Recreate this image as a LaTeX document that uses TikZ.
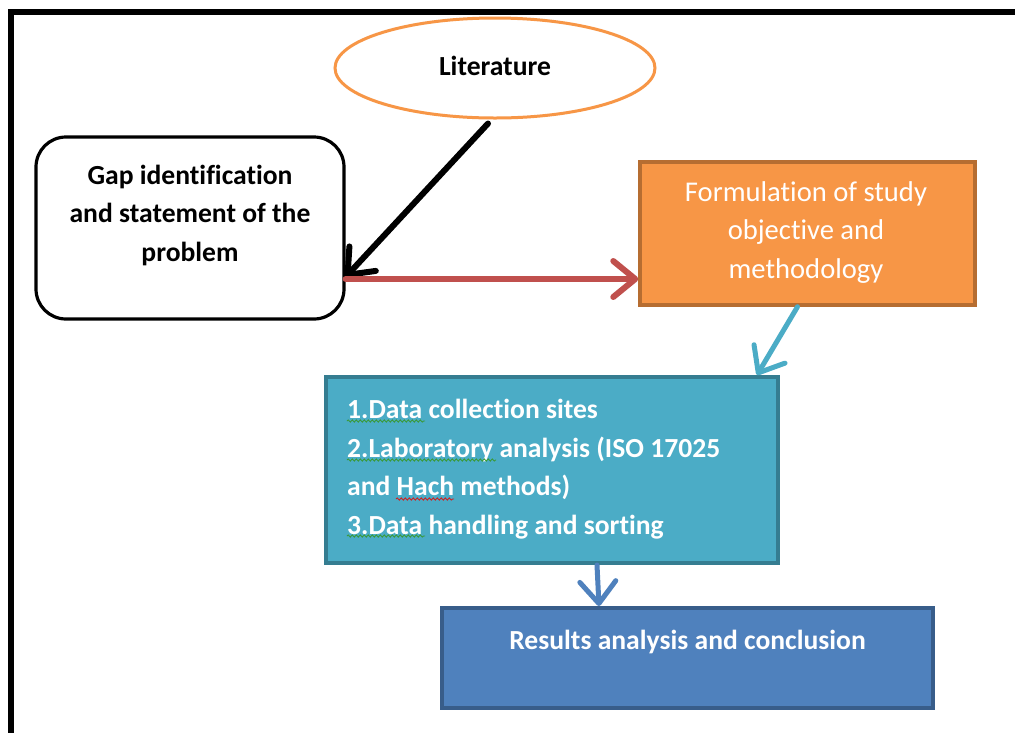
\documentclass[tikz,border=0pt]{standalone}
\usepackage{fontspec}
\setmainfont[Ligatures=NoCommon]{Carlito}
\usetikzlibrary{arrows.meta,shapes.geometric,decorations.pathmorphing}
\definecolor{orangeF}{HTML}{F79646}
\definecolor{orangeD}{HTML}{B66D31}
\definecolor{tealF}{HTML}{4BACC6}
\definecolor{tealD}{HTML}{357D91}
\definecolor{blueF}{HTML}{4F81BD}
\definecolor{blueD}{HTML}{385D8A}
\definecolor{redA}{HTML}{C0504D}
\definecolor{sqgreen}{HTML}{3A9A3A}
\definecolor{sqred}{HTML}{D02020}
\tikzset{
  txt/.style={font=\fontsize{27.6}{38.5}\selectfont, align=center, inner sep=0pt},
  btxt/.style={font=\fontsize{27.6}{38.5}\selectfont\bfseries, align=center, inner sep=0pt},
  boxbase/.style={rectangle, inner sep=0pt},
  tip/.style={-{Straight Barb[length=22pt,width=36pt,line cap=round,line join=round]}, line cap=round},
  squig/.style={line width=0.9pt, decorate, decoration={snake, amplitude=1.1pt, segment length=4pt}},
}
\begin{document}
\begin{tikzpicture}[x=1pt,y=-1pt]
\useasboundingbox (0,0) rectangle (1015,732);
\clip (0,0) rectangle (1015,732);
\fill[white] (0,0) rectangle (1015,732);
% frame
\draw[line width=6pt] (11,745) -- (11,12) -- (1030,12);
% nodes
\node[ellipse, draw=orangeF, line width=3pt, fill=white, minimum width=320pt, minimum height=100pt,
      btxt] (lit) at (495,68) {};
\node[btxt] (litT) at (495,66) {Literature};
\node[boxbase, draw=black, line width=3.2pt, rounded corners=30pt, fill=white,
      minimum width=308pt, minimum height=182pt] (gap) at (190,228) {};
\node[btxt] (gapT) at (190,215)
      {Gap identification\\and statement of the\\problem};
\node[boxbase, draw=orangeD, line width=3.5pt, fill=orangeF,
      minimum width=335pt, minimum height=143pt] (form) at (807.5,233.5) {};
\node[txt, text=white, font=\fontsize{28.6}{38.5}\selectfont] (formT) at (806,232.5)
      {Formulation of study\\objective and\\methodology};
\node[boxbase, draw=tealD, line width=4pt, fill=tealF,
      minimum width=452pt, minimum height=186pt] (data) at (552,470) {};
\node[btxt, align=left, text=white, anchor=west] (dataT) at (347,469)
      {1.Data collection sites\\2.Laboratory analysis (ISO 17025\\and Hach methods)\\3.Data handling and sorting};
\node[boxbase, draw=blueD, line width=4pt, fill=blueF,
      minimum width=491pt, minimum height=100pt] (res) at (687.5,658) {};
\node[btxt, text=white] (resT) at (687.5,642)
      {Results analysis and conclusion};
% spell-check marks
\draw[squig, sqgreen] (347,421) -- (425,421);
\draw[squig, sqgreen] (347,460) -- (496,460);
\draw[squig, sqred] (396,499) -- (454,499);
\draw[squig, sqgreen] (347,536) -- (425,536);
% connectors
\coordinate (litS) at ([xshift=-7pt,yshift=-4pt]lit.south);
\coordinate (gapE) at ([yshift=-49pt]gap.east);
\draw[tip, line width=6pt, black] (litS) -- (gapE);
\coordinate (redS) at ([yshift=-51pt]gap.east);
\draw[tip, line width=6pt, redA] (redS) -- (redS -| form.west);
\draw[tip, line width=5pt, tealF] ([xshift=-10pt]form.south) -- ([xshift=205pt]data.north);
\draw[tip, line width=5pt, blueF] ([xshift=45pt]data.south) -- ([xshift=-88.5pt]res.north);
\end{tikzpicture}
\end{document}
